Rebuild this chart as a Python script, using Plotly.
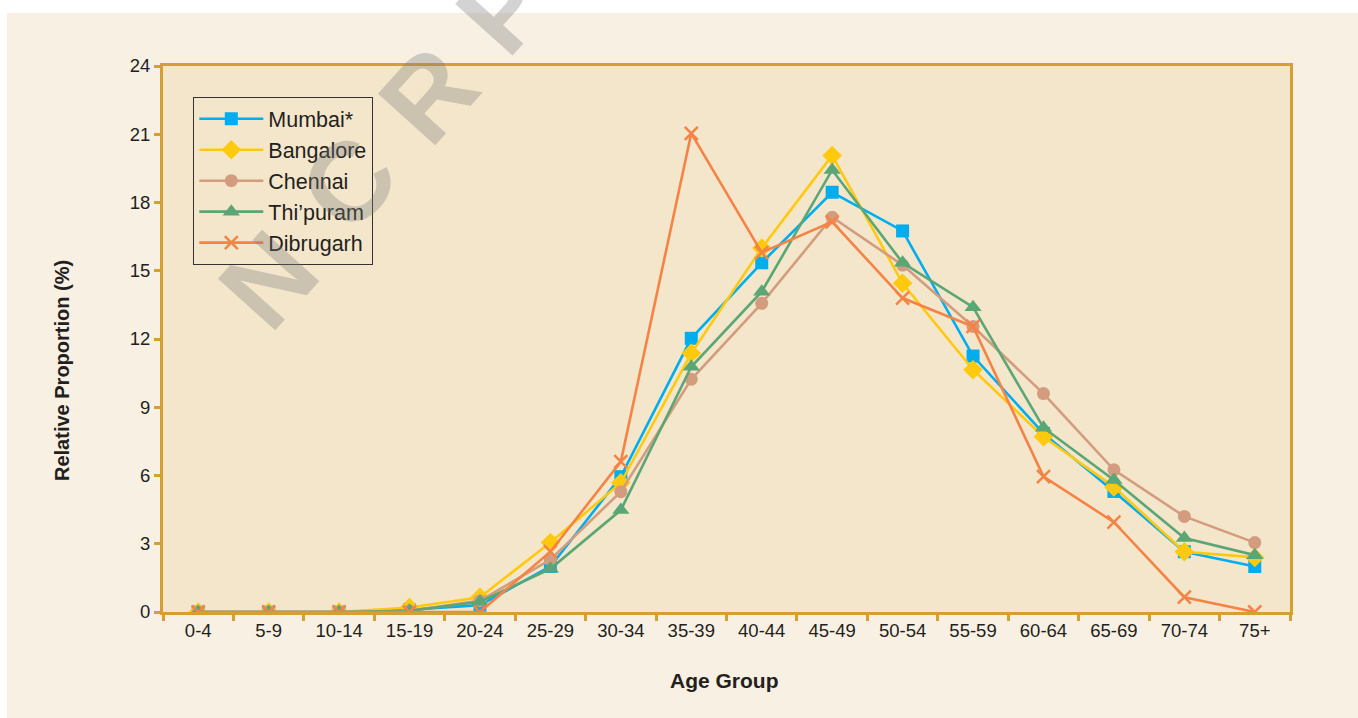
import plotly.graph_objects as go

categories = ["0-4", "5-9", "10-14", "15-19", "20-24", "25-29", "30-34", "35-39",
              "40-44", "45-49", "50-54", "55-59", "60-64", "65-69", "70-74", "75+"]

mumbai = [0, 0, 0, 0.1, 0.3, 2.0, 5.95, 12.03, 15.35, 18.45, 16.75, 11.25, 7.85, 5.3, 2.65, 2.0]
bangalore = [0, 0, 0, 0.2, 0.65, 3.05, 5.68, 11.37, 16.0, 20.07, 14.45, 10.65, 7.7, 5.5, 2.65, 2.4]
chennai = [0, 0, 0, 0.05, 0.5, 2.3, 5.29, 10.23, 13.57, 17.35, 15.25, 12.55, 9.6, 6.25, 4.2, 3.05]
thipuram = [0, 0, 0, 0.05, 0.45, 1.9, 4.48, 10.78, 14.08, 19.43, 15.35, 13.4, 8.1, 5.8, 3.25, 2.5]
dibrugarh = [0, 0, 0, 0, 0, 2.65, 6.61, 21.04, 15.8, 17.15, 13.8, 12.55, 5.95, 3.95, 0.65, 0]

series_names = ["Mumbai*", "Bangalore", "Chennai", "Thi\u2019puram", "Dibrugarh"]
series_values = [mumbai, bangalore, chennai, thipuram, dibrugarh]
series_colors = ["#00AEEF", "#FFC90E", "#D49C7E", "#5AA675", "#F58345"]
series_symbols = ["square", "diamond", "circle", "triangle-up", "x-thin"]
series_sizes = [13, 15, 13, 15, 13]

y_ticks = [0, 3, 6, 9, 12, 15, 18, 21, 24]

# layout geometry (pixels); page margin removed so figure fills the window
W, H = 1358, 718
ML, MR, MT, MB = 163, 68, 66, 106
PW, PH = W - ML - MR, H - MB - MT

def px(x):  # x in window pixels -> paper coordinate
    return (x - ML) / PW

def py(y):  # y in window pixels -> paper coordinate
    return (H - MB - y) / PH

GOLD = "#D4A033"
TEXT = "#231F20"
FONT = "Liberation Sans, Arial, Helvetica, sans-serif"

fig = go.Figure()
for name, vals, col, sym, sz in zip(series_names, series_values, series_colors,
                                    series_symbols, series_sizes):
    marker = dict(symbol=sym, size=sz, color=col)
    if sym == "x-thin":
        marker["line"] = dict(color=col, width=2.5)
    fig.add_trace(go.Scatter(
        x=categories, y=vals, name=name, mode="lines+markers",
        line=dict(color=col, width=2.6), marker=marker,
        legendgroup=name,
    ))

shapes = [
    # white strips at the top and left of the page
    dict(type="rect", xref="paper", yref="paper", x0=px(-5), x1=px(W + 5), y0=py(13), y1=py(-5),
         fillcolor="white", line=dict(width=0), layer="below"),
    dict(type="rect", xref="paper", yref="paper", x0=px(-5), x1=px(7), y0=py(H + 5), y1=py(-5),
         fillcolor="white", line=dict(width=0), layer="below"),
]

annotations = [
    dict(text="Age Group", xref="paper", yref="paper", x=px(724), y=py(680),
         showarrow=False, font=dict(size=21, color=TEXT, family=FONT, weight="bold"),
         xanchor="center", yanchor="middle"),
    dict(text="Relative Proportion (%)", xref="paper", yref="paper", x=px(62), y=py(370),
         showarrow=False, textangle=-90,
         font=dict(size=20, color=TEXT, family=FONT, weight="bold"),
         xanchor="center", yanchor="middle"),
]

# watermark letters
wm_letters = ["N", "C", "R", "P"]
wm_pos = [(268, 280), (348, 183), (428, 95), (504, 8)]
for letter, (wx, wy) in zip(wm_letters, wm_pos):
    annotations.append(dict(
        text=letter, xref="paper", yref="paper", x=px(wx), y=py(wy),
        showarrow=False, textangle=-48, xanchor="center", yanchor="middle",
        font=dict(size=112, color="rgba(120,120,120,0.33)", family=FONT, weight="bold"),
    ))

fig.update_layout(
    width=W, height=H,
    margin=dict(l=ML, r=MR, t=MT, b=MB, pad=0),
    paper_bgcolor="#F8F0E3",
    plot_bgcolor="#F4E6CB",
    font=dict(family=FONT, color=TEXT, size=18),
    showlegend=True,
    legend=dict(
        x=px(193), y=py(97), xanchor="left", yanchor="top",
        bgcolor="#F4E6CB", bordercolor="#333333", borderwidth=1.3,
        font=dict(size=21.5, color=TEXT, family=FONT),
        itemwidth=64, tracegroupgap=0,
        entrywidth=112, entrywidthmode="pixels",
    ),
    xaxis=dict(
        type="category", range=[-0.5, 15.5],
        showline=True, linecolor=GOLD, linewidth=3, mirror=True,
        ticks="outside", tickson="boundaries", ticklen=6, tickcolor=GOLD, tickwidth=2.5,
        showgrid=False, zeroline=False,
        tickfont=dict(size=18.5, color=TEXT, family=FONT),
        fixedrange=True,
    ),
    yaxis=dict(
        range=[0, 24], tickvals=y_ticks,
        showline=True, linecolor=GOLD, linewidth=3, mirror=True,
        ticks="outside", ticklen=6, tickcolor=GOLD, tickwidth=2.5,
        showgrid=False, zeroline=False,
        tickfont=dict(size=18.5, color=TEXT, family=FONT),
        fixedrange=True,
    ),
    shapes=shapes,
    annotations=annotations,
)

fig.write_html(
    "out.html",
    config={"displayModeBar": False},
    post_script="document.body.style.margin='0';document.body.style.overflow='hidden';",
)
